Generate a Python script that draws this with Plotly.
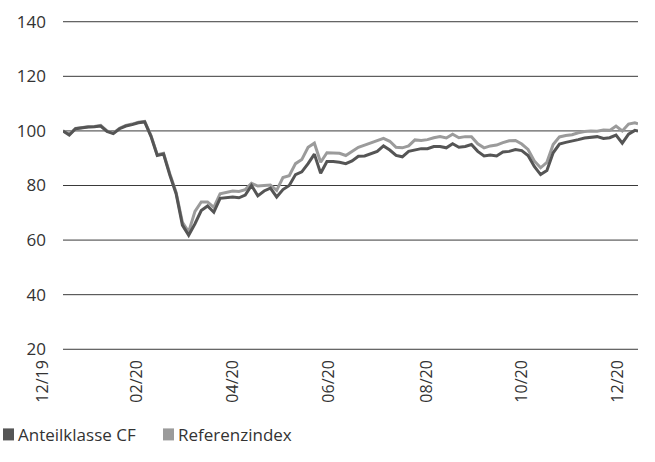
import pandas as pd
import plotly.graph_objects as go

# Data (4-day sampling)
start_date = "2019-12-31"
end_date = "2020-12-31"
anteilklasse_cf = [
    100.0, 98.5, 100.8, 101.2, 101.4, 101.5, 101.8, 99.8, 99.0, 100.8,
    101.8, 102.3, 103.0, 103.3, 98.0, 91.0, 91.5, 83.8, 77.0, 65.5,
    61.8, 66.0, 70.8, 72.5, 70.2, 75.3, 75.5, 75.8, 75.5, 76.5,
    80.0, 76.2, 78.0, 79.0, 75.8, 78.5, 80.0, 84.0, 85.0, 88.0,
    91.5, 84.5, 88.8, 88.8, 88.5, 88.0, 89.0, 90.7, 90.8, 91.6,
    92.5, 94.5, 93.0, 91.0, 90.5, 92.5, 93.0, 93.5, 93.5, 94.3,
    94.3, 93.8, 95.3, 94.0, 94.3, 95.0, 92.5, 90.8, 91.2, 90.8,
    92.3, 92.5, 93.2, 92.8, 91.0, 87.0, 84.0, 85.5, 92.0, 95.2,
    95.8, 96.2, 96.8, 97.4, 97.6, 97.9, 97.2, 97.5, 98.5, 95.5,
    98.8, 100.2, 100.0,
]
referenzindex = [
    100.0, 98.8, 100.9, 101.3, 101.5, 101.6, 102.0, 100.0, 99.2, 101.0,
    102.0, 102.5, 103.2, 103.5, 98.3, 91.3, 91.8, 84.3, 77.5, 66.5,
    63.0, 70.5, 74.0, 74.0, 72.0, 77.0, 77.5, 78.0, 77.8, 78.5,
    80.8, 79.8, 80.0, 80.2, 78.2, 82.9, 83.6, 88.0, 89.5, 94.0,
    95.5, 88.5, 92.0, 92.0, 91.8, 91.0, 92.5, 94.0, 94.8, 95.6,
    96.5, 97.3, 96.2, 94.0, 93.8, 94.5, 96.7, 96.5, 96.8, 97.5,
    97.9, 97.4, 98.8, 97.5, 97.9, 97.9, 95.3, 93.8, 94.5, 94.8,
    95.7, 96.4, 96.5, 95.2, 93.2, 89.0, 86.5, 88.5, 95.0, 97.8,
    98.3, 98.6, 99.3, 99.8, 100.0, 99.9, 100.3, 100.2, 101.8, 100.0,
    102.5, 103.0, 102.6,
]
tick_dates = ["2019-12-31", "2020-02-29", "2020-04-30", "2020-06-30",
              "2020-08-31", "2020-10-31", "2020-12-31"]
tick_labels = ["12/19", "02/20", "04/20", "06/20", "08/20", "10/20", "12/20"]
y_ticks = [20, 40, 60, 80, 100, 120, 140]
series_names = ["Anteilklasse CF", "Referenzindex"]
colors = ["#555555", "#9b9b9b"]

dates = pd.date_range(start_date, end_date, freq="4D")
dates = dates.append(pd.DatetimeIndex([end_date]))

W, H = 655, 462
PAD = 1.0  # y-range padding so the 20/140 gridlines stay visible
ML, MR = 63, 17
PX_PER_UNIT = (349 - 22) / 120.0
MT = 22 - PAD * PX_PER_UNIT
MB = (H - 349) - PAD * PX_PER_UNIT
PW, PH = W - ML - MR, H - MT - MB

def px_x(p):
    return (p - ML) / PW

def px_y(p):
    return (H - MB - p) / PH

fig = go.Figure()
fig.add_trace(go.Scatter(x=dates, y=referenzindex, mode="lines", name=series_names[1],
                         line=dict(color=colors[1], width=3),
                         showlegend=False, hoverinfo="skip"))
fig.add_trace(go.Scatter(x=dates, y=anteilklasse_cf, mode="lines", name=series_names[0],
                         line=dict(color=colors[0], width=3),
                         showlegend=False, hoverinfo="skip"))

font_family = "Open Sans, Noto Sans, sans-serif"
text_color = "#333333"
grid_color = "#3a3a3a"

shapes, annotations = [], []
# Horizontal gridlines at each y tick (drawn below the data lines)
for v in y_ticks:
    shapes.append(dict(type="line", xref="paper", yref="y", x0=0, x1=1, y0=v, y1=v,
                       line=dict(color=grid_color, width=1), layer="below"))

# Custom legend (square swatch + label) below the chart
legend_x = [3, 163]
for name, c, lx in zip(series_names, colors, legend_x):
    shapes.append(dict(type="rect", xref="paper", yref="paper",
                       x0=px_x(lx), x1=px_x(lx + 11), y0=px_y(440), y1=px_y(428),
                       fillcolor=c, line=dict(width=0)))
    annotations.append(dict(text=name, xref="paper", yref="paper",
                            x=px_x(lx + 13), y=px_y(434), xanchor="left", yanchor="middle",
                            showarrow=False, font=dict(size=17, color=text_color)))

fig.update_layout(
    width=W, height=H,
    margin=dict(l=ML, r=MR, t=MT, b=MB, pad=0, autoexpand=False),
    paper_bgcolor="white", plot_bgcolor="white",
    font=dict(family=font_family, size=17, color=text_color),
    showlegend=False,
    shapes=shapes, annotations=annotations,
    xaxis=dict(type="date", range=[start_date, end_date],
               tickmode="array", tickvals=tick_dates, ticktext=tick_labels,
               tickangle=-90, showgrid=False, zeroline=False, showline=False,
               ticks="", automargin=False, ticklabelshift=-20,
               ticklabelstandoff=4,
               tickfont=dict(size=16, color=text_color)),
    yaxis=dict(range=[20 - PAD, 140 + PAD], tickmode="array", tickvals=y_ticks,
               showgrid=False, zeroline=False, showline=False, ticks="",
               automargin=False, ticklabelstandoff=16,
               tickfont=dict(size=17, color=text_color)),
)

fig.write_html("out.html", config={"displayModeBar": False},
               post_script="document.body.style.margin='0';document.body.style.padding='0';")
